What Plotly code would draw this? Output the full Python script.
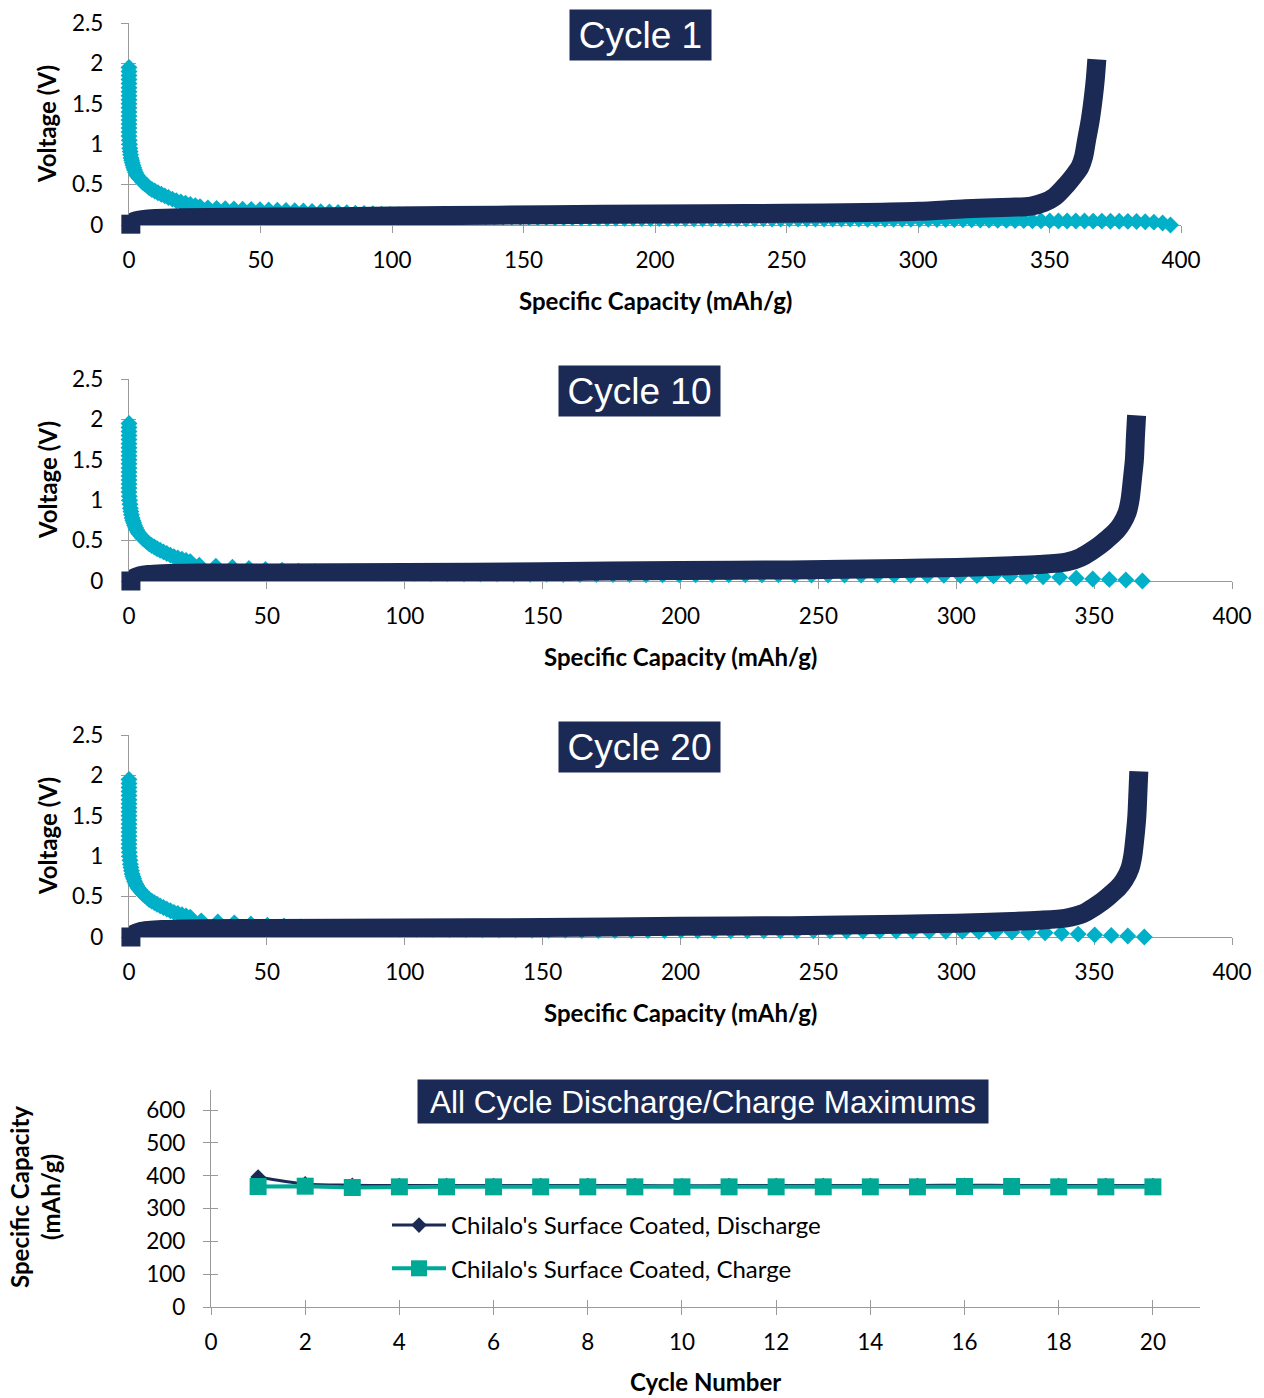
import plotly.graph_objects as go

W, H = 1264, 1398

# ---------------- data ----------------
# steep start of the discharge curves, (specific capacity mAh/g, voltage V)
c1_discharge_start = [
    (0, 1.95), (0, 1.9), (0, 1.85), (0, 1.8), (0, 1.75), (0, 1.7), (0, 1.65), (0, 1.6), (0, 1.55),
    (0, 1.5), (0, 1.45), (0, 1.4), (0, 1.35), (0, 1.3), (0, 1.25), (0, 1.2), (0, 1.15), (0, 1.1),
    (0.1, 1.05), (0.2, 1.0), (0.3, 0.95), (0.45, 0.91), (0.6, 0.87), (0.8, 0.83), (1.0, 0.8),
    (1.25, 0.77), (1.5, 0.74), (1.8, 0.71), (2.1, 0.68), (2.5, 0.65), (2.9, 0.62), (3.4, 0.6),
    (3.9, 0.58), (4.5, 0.56), (5.2, 0.53), (6.0, 0.51), (6.8, 0.49), (7.7, 0.46), (8.7, 0.44),
    (9.8, 0.42), (11.0, 0.4), (12.3, 0.38), (13.6, 0.36), (15.0, 0.34), (16.5, 0.32), (18.0, 0.3),
    (19.7, 0.285), (21.5, 0.27), (23.3, 0.255), (25.2, 0.24), (27.0, 0.228),
]
c1_discharge_plateau = [
    (30.0, 0.212), (33.3, 0.206), (36.6, 0.201), (39.9, 0.198), (43.2, 0.195), (46.5, 0.192),
    (49.8, 0.19), (53.1, 0.187), (56.4, 0.184), (59.7, 0.181), (63.0, 0.177), (66.3, 0.173),
    (69.6, 0.169), (72.9, 0.164), (76.2, 0.16), (79.5, 0.155), (82.8, 0.151), (86.1, 0.147),
    (89.4, 0.143), (92.7, 0.139), (96.0, 0.135), (99.3, 0.131), (102.6, 0.128), (105.9, 0.125),
    (109.2, 0.122), (112.5, 0.119), (115.8, 0.116), (119.1, 0.113), (122.4, 0.111), (125.7, 0.109),
    (129.0, 0.107), (132.3, 0.105), (135.6, 0.103), (138.9, 0.101), (142.2, 0.099), (145.5, 0.097),
    (148.8, 0.096), (152.1, 0.094), (155.4, 0.093), (158.7, 0.091), (162.0, 0.09), (165.3, 0.089),
    (168.6, 0.088), (171.9, 0.087), (175.2, 0.086), (178.5, 0.085), (181.8, 0.084), (185.1, 0.083),
    (188.4, 0.083), (191.7, 0.082), (195.0, 0.081), (198.3, 0.081), (201.6, 0.08), (204.9, 0.08),
    (208.2, 0.079), (211.5, 0.079), (214.8, 0.078), (218.1, 0.078), (221.4, 0.078), (224.7, 0.077),
    (228.0, 0.077), (231.3, 0.077), (234.6, 0.076), (237.9, 0.076), (241.2, 0.076), (244.5, 0.075),
    (247.8, 0.075), (251.1, 0.075), (254.4, 0.075), (257.7, 0.074), (261.0, 0.074), (264.3, 0.074),
    (267.6, 0.074), (270.9, 0.073), (274.2, 0.073), (277.5, 0.073), (280.8, 0.072), (284.1, 0.072),
    (287.4, 0.072), (290.7, 0.071), (294.0, 0.071), (297.3, 0.07), (300.6, 0.07), (303.9, 0.069),
    (307.2, 0.068), (310.5, 0.067), (313.8, 0.066), (317.1, 0.065), (320.4, 0.063), (323.7, 0.062),
    (327.0, 0.06), (330.3, 0.059), (333.6, 0.057), (336.9, 0.056), (340.2, 0.054), (343.5, 0.053),
    (346.8, 0.052), (350.1, 0.051), (353.4, 0.05), (356.7, 0.05), (360.0, 0.049), (363.3, 0.049),
    (366.6, 0.048), (369.9, 0.048), (373.2, 0.047), (376.5, 0.046), (379.8, 0.045), (383.1, 0.043),
    (386.4, 0.04), (389.7, 0.035), (393.0, 0.025), (396.0, 0.0),
]
c1_charge = [
    (0.7, 0.01), (1, 0.03), (2.5, 0.05), (5, 0.065), (10, 0.08), (20, 0.09), (40, 0.095), (70, 0.1),
    (100, 0.11), (140, 0.122), (180, 0.132), (220, 0.138), (250, 0.145), (280, 0.155), (300, 0.17),
    (318, 0.2), (335, 0.22), (343, 0.235), (348, 0.28), (352, 0.35), (356.5, 0.5), (359.5, 0.62),
    (361.6, 0.72), (363, 0.85), (364.1, 1.05), (365.5, 1.3), (366.6, 1.56), (367.4, 1.8), (368, 2.05),
]

c10_discharge_start = [
    (0, 1.95), (0, 1.9), (0, 1.85), (0, 1.8), (0, 1.75), (0, 1.7), (0, 1.65), (0, 1.6), (0, 1.55),
    (0, 1.5), (0, 1.45), (0, 1.4), (0, 1.35), (0, 1.3), (0, 1.25), (0, 1.2), (0, 1.15), (0, 1.1),
    (0.1, 1.05), (0.2, 1.0), (0.35, 0.95), (0.5, 0.9), (0.7, 0.86), (0.9, 0.82), (1.15, 0.78),
    (1.4, 0.75), (1.7, 0.72), (2.0, 0.69), (2.4, 0.66), (2.8, 0.63), (3.3, 0.6), (3.8, 0.58),
    (4.4, 0.555), (5.0, 0.53), (5.7, 0.51), (6.5, 0.485), (7.3, 0.46), (8.2, 0.44), (9.2, 0.42),
    (10.2, 0.4), (11.3, 0.38), (12.5, 0.36), (13.7, 0.34), (15.0, 0.32), (16.3, 0.3), (17.7, 0.285),
    (19.2, 0.27), (20.7, 0.255), (22.2, 0.24),
]
c10_discharge_plateau = [
    (25.5, 0.196), (31.5, 0.183), (37.5, 0.171), (43.5, 0.155), (49.5, 0.142), (55.5, 0.134),
    (61.5, 0.121), (67.5, 0.115), (73.5, 0.11), (79.5, 0.105), (85.5, 0.1), (91.5, 0.097),
    (97.5, 0.094), (103.5, 0.092), (109.5, 0.09), (115.5, 0.088), (121.5, 0.087), (127.5, 0.086),
    (133.5, 0.085), (139.5, 0.084), (145.5, 0.083), (151.5, 0.082), (157.5, 0.081), (163.5, 0.08),
    (169.5, 0.08), (175.5, 0.079), (181.5, 0.079), (187.5, 0.078), (193.5, 0.078), (199.5, 0.078),
    (205.5, 0.077), (211.5, 0.077), (217.5, 0.077), (223.5, 0.076), (229.5, 0.076), (235.5, 0.076),
    (241.5, 0.075), (247.5, 0.075), (253.5, 0.075), (259.5, 0.074), (265.5, 0.074), (271.5, 0.073),
    (277.5, 0.073), (283.5, 0.072), (289.5, 0.071), (295.5, 0.07), (301.5, 0.068), (307.5, 0.066),
    (313.5, 0.063), (319.5, 0.06), (325.5, 0.057), (331.5, 0.052), (337.5, 0.045), (343.5, 0.035),
    (349.5, 0.025), (355.5, 0.02), (361.5, 0.012), (367.5, 0.0),
]
c10_charge = [
    (0.7, 0.0), (2, 0.04), (4, 0.065), (7, 0.08), (12, 0.09), (25, 0.1), (50, 0.1), (100, 0.105),
    (150, 0.115), (200, 0.13), (240, 0.137), (280, 0.155), (300, 0.167), (320, 0.19), (330, 0.205),
    (340, 0.235), (345, 0.29), (349, 0.37), (352, 0.44), (354.5, 0.51), (358, 0.62), (360, 0.71),
    (362, 0.85), (363, 1.0), (364, 1.3), (364.6, 1.5), (365, 1.8), (365.4, 2.05),
]

c20_discharge_start = [
    (0, 1.95), (0, 1.9), (0, 1.85), (0, 1.8), (0, 1.75), (0, 1.7), (0, 1.65), (0, 1.6), (0, 1.55),
    (0, 1.5), (0, 1.45), (0, 1.4), (0, 1.35), (0, 1.3), (0, 1.25), (0, 1.2), (0, 1.15), (0, 1.1),
    (0.1, 1.05), (0.2, 1.0), (0.35, 0.95), (0.5, 0.9), (0.7, 0.86), (0.9, 0.82), (1.15, 0.78),
    (1.4, 0.75), (1.7, 0.72), (2.0, 0.69), (2.4, 0.66), (2.8, 0.635), (3.3, 0.605), (3.8, 0.585),
    (4.4, 0.56), (5.0, 0.535), (5.7, 0.515), (6.5, 0.49), (7.3, 0.465), (8.2, 0.445), (9.2, 0.425),
    (10.2, 0.405), (11.3, 0.385), (12.5, 0.365), (13.7, 0.345), (15.0, 0.325), (16.3, 0.305),
    (17.7, 0.29), (19.2, 0.275), (20.7, 0.26), (22.2, 0.245),
]
c20_discharge_plateau = [
    (26.2, 0.2), (32.2, 0.187), (38.2, 0.175), (44.2, 0.16), (50.2, 0.146), (56.2, 0.136),
    (62.2, 0.124), (68.2, 0.117), (74.2, 0.111), (80.2, 0.106), (86.2, 0.101), (92.2, 0.098),
    (98.2, 0.095), (104.2, 0.093), (110.2, 0.091), (116.2, 0.089), (122.2, 0.088), (128.2, 0.087),
    (134.2, 0.086), (140.2, 0.085), (146.2, 0.084), (152.2, 0.083), (158.2, 0.082), (164.2, 0.081),
    (170.2, 0.081), (176.2, 0.08), (182.2, 0.08), (188.2, 0.079), (194.2, 0.079), (200.2, 0.079),
    (206.2, 0.078), (212.2, 0.078), (218.2, 0.078), (224.2, 0.077), (230.2, 0.077), (236.2, 0.077),
    (242.2, 0.076), (248.2, 0.076), (254.2, 0.076), (260.2, 0.075), (266.2, 0.075), (272.2, 0.074),
    (278.2, 0.074), (284.2, 0.073), (290.2, 0.072), (296.2, 0.071), (302.2, 0.069), (308.2, 0.067),
    (314.2, 0.064), (320.2, 0.061), (326.2, 0.058), (332.2, 0.053), (338.2, 0.046), (344.2, 0.036),
    (350.2, 0.026), (356.2, 0.02), (362.2, 0.012), (368.2, 0.0),
]
c20_charge = [
    (0.7, 0.0), (2, 0.04), (4, 0.065), (7, 0.08), (12, 0.092), (25, 0.103), (50, 0.105), (100, 0.11),
    (150, 0.118), (200, 0.132), (240, 0.14), (280, 0.158), (300, 0.17), (320, 0.192), (330, 0.207),
    (340, 0.235), (346, 0.29), (350, 0.37), (353, 0.44), (355.5, 0.51), (359, 0.62), (361, 0.71),
    (363, 0.85), (364, 1.0), (365, 1.3), (365.5, 1.5), (365.9, 1.8), (366.2, 2.05),
]

# All-cycle maximums
cycle_number = list(range(1, 21))
max_discharge = [396, 375, 371, 370, 370, 370, 370, 370, 370, 369, 370, 370, 370, 370, 370, 371, 370, 370, 370, 370]
max_charge = [367, 368, 364, 366, 366, 366, 366, 366, 366, 366, 366, 366, 366, 366, 366, 367, 367, 366, 366, 366]

voltage_ticks = [0, 0.5, 1, 1.5, 2, 2.5]
voltage_ticktext = ["0", "0.5", "1", "1.5", "2", "2.5"]
capacity_ticks = [0, 50, 100, 150, 200, 250, 300, 350, 400]
cycle_ticks = [0, 2, 4, 6, 8, 10, 12, 14, 16, 18, 20]
cap_ticks = [0, 100, 200, 300, 400, 500, 600]
legend_names = ["Chilalo's Surface Coated, Discharge", "Chilalo's Surface Coated, Charge"]

# ---------------- styling ----------------
NAVY = "#1b2a55"
CYAN = "#00afc8"
TEAL = "#00a996"
AXIS = "#9a9a9a"
TICKFONT = dict(family="Lato", size=22.5, color="black")
TITLEFONT = dict(family="Lato", size=24, color="black")


def fx(p):
    return p / W


def fy(p):
    return 1 - p / H


fig = go.Figure()

panels = [
    dict(dis=c1_discharge_start + c1_discharge_plateau, chg=c1_charge, x0=129, x1=1181, y0=23, y1=225,
         title="Cycle 1", box=(570, 10, 711, 60)),
    dict(dis=c10_discharge_start + c10_discharge_plateau, chg=c10_charge, x0=129, x1=1232, y0=379,
         y1=581, title="Cycle 10", box=(559, 366, 720, 416)),
    dict(dis=c20_discharge_start + c20_discharge_plateau, chg=c20_charge, x0=129, x1=1232, y0=735,
         y1=937, title="Cycle 20", box=(559, 722, 720, 772)),
]

annotations = []
layout_axes = {}


def axis_common():
    return dict(showline=True, linecolor=AXIS, linewidth=1.3, ticks="outside", ticklen=7,
                tickcolor=AXIS, tickwidth=1.3, showgrid=False, zeroline=False, automargin=False,
                tickfont=TICKFONT, layer="below traces")


def overlay_common():
    return dict(showline=False, ticks="inside", ticklen=7, tickcolor=AXIS, tickwidth=1.3,
                showgrid=False, zeroline=False, showticklabels=False, automargin=False,
                layer="below traces")


for i, p in enumerate(panels):
    k = i + 1
    xa = "x" if k == 1 else f"x{k}"
    ya = "y" if k == 1 else f"y{k}"
    xo, yo = f"x{k + 4}", f"y{k + 4}"
    fig.add_trace(go.Scatter(
        x=[c for c, v in p["dis"]], y=[v for c, v in p["dis"]], mode="markers",
        marker=dict(symbol="diamond", size=13, color=CYAN, line=dict(width=0)),
        cliponaxis=False, showlegend=False, xaxis=xa, yaxis=ya, hoverinfo="skip"))
    fig.add_trace(go.Scatter(
        x=[c for c, v in p["chg"]], y=[v for c, v in p["chg"]], mode="lines",
        line=dict(color=NAVY, width=19, shape="spline", smoothing=0.8), cliponaxis=False,
        showlegend=False, xaxis=xa, yaxis=ya, hoverinfo="skip"))
    fig.add_trace(go.Scatter(
        x=[p["chg"][0][0]], y=[p["chg"][0][1]], mode="markers",
        marker=dict(symbol="square", size=19, color=NAVY), cliponaxis=False,
        showlegend=False, xaxis=xa, yaxis=ya, hoverinfo="skip"))
    # empty traces hosting the overlay axes that give the crossing tick marks
    fig.add_trace(go.Scatter(x=[], y=[], xaxis=xo, yaxis=ya, showlegend=False))
    fig.add_trace(go.Scatter(x=[], y=[], xaxis=xa, yaxis=yo, showlegend=False))

    xdom = [fx(p["x0"]), fx(p["x1"])]
    ydom = [fy(p["y1"]), fy(p["y0"])]
    layout_axes[f"xaxis{k}"] = dict(axis_common(), domain=xdom, range=[0, 400], anchor=ya,
                                    tickvals=capacity_ticks, ticklabelstandoff=8)
    layout_axes[f"yaxis{k}"] = dict(axis_common(), domain=ydom, range=[0, 2.5], anchor=xa,
                                    tickvals=voltage_ticks, ticktext=voltage_ticktext,
                                    ticklabelstandoff=13)
    layout_axes[f"xaxis{k + 4}"] = dict(overlay_common(), domain=xdom, range=[0, 400], anchor=ya,
                                        overlaying=xa, tickvals=capacity_ticks, side="bottom")
    layout_axes[f"yaxis{k + 4}"] = dict(overlay_common(), domain=ydom, range=[0, 2.5], anchor=xa,
                                        overlaying=ya, tickvals=voltage_ticks, side="left")

    bx0, by0, bx1, by1 = p["box"]
    annotations.append(dict(
        text=p["title"], x=fx((bx0 + bx1) / 2), y=fy((by0 + by1) / 2), xref="paper", yref="paper",
        xanchor="center", yanchor="middle", showarrow=False, bgcolor=NAVY, borderpad=0,
        width=bx1 - bx0, height=by1 - by0,
        font=dict(family="Liberation Sans", size=37, color="white")))
    annotations.append(dict(
        text="<b>Specific Capacity (mAh/g)</b>", x=fx((p["x0"] + p["x1"]) / 2), y=fy(p["y1"] + 75),
        xref="paper", yref="paper", xanchor="center", yanchor="middle", showarrow=False,
        font=TITLEFONT))
    annotations.append(dict(
        text="<b>Voltage (V)</b>", x=fx(47), y=fy((p["y0"] + p["y1"]) / 2), textangle=-90,
        xref="paper", yref="paper", xanchor="center", yanchor="middle", showarrow=False,
        font=TITLEFONT))

# ---- panel 4 : all cycle maximums ----
fig.add_trace(go.Scatter(
    x=cycle_number, y=max_discharge, mode="lines+markers", name=legend_names[0],
    line=dict(color=NAVY, width=3, shape="spline"),
    marker=dict(symbol="diamond", size=12, color=NAVY), xaxis="x4", yaxis="y4",
    legendgroup="a", cliponaxis=False))
fig.add_trace(go.Scatter(
    x=cycle_number, y=max_charge, mode="lines+markers", name=legend_names[1],
    line=dict(color=TEAL, width=4), marker=dict(symbol="square", size=17, color=TEAL),
    xaxis="x4", yaxis="y4", legendgroup="b", cliponaxis=False))
fig.add_trace(go.Scatter(x=[], y=[], xaxis="x8", yaxis="y4", showlegend=False))
fig.add_trace(go.Scatter(x=[], y=[], xaxis="x4", yaxis="y8", showlegend=False))

x4dom = [fx(211), fx(1200)]
y4dom = [fy(1307), fy(1090)]
layout_axes["xaxis4"] = dict(axis_common(), domain=x4dom, range=[0, 21], anchor="y4",
                             tickvals=cycle_ticks, ticklabelstandoff=8)
layout_axes["yaxis4"] = dict(axis_common(), domain=y4dom, range=[0, 661], anchor="x4",
                             tickvals=cap_ticks, ticklabelstandoff=13)
layout_axes["xaxis8"] = dict(overlay_common(), domain=x4dom, range=[0, 21], anchor="y4",
                             overlaying="x4", tickvals=cycle_ticks, side="bottom")
layout_axes["yaxis8"] = dict(overlay_common(), domain=y4dom, range=[0, 661], anchor="x4",
                             overlaying="y4", tickvals=cap_ticks, side="left")

annotations.append(dict(
    text="All Cycle Discharge/Charge Maximums", x=fx(703), y=fy(1101.5), xref="paper", yref="paper",
    xanchor="center", yanchor="middle", showarrow=False, bgcolor=NAVY, borderpad=0,
    width=570, height=43, font=dict(family="Liberation Sans", size=31.5, color="white")))
annotations.append(dict(
    text="<b>Cycle Number</b>", x=fx(705), y=fy(1381), xref="paper", yref="paper",
    xanchor="center", yanchor="middle", showarrow=False, font=TITLEFONT))
annotations.append(dict(
    text="<b>Specific Capacity<br>(mAh/g)</b>", x=fx(35), y=fy(1197), textangle=-90,
    xref="paper", yref="paper", xanchor="center", yanchor="middle", showarrow=False,
    font=TITLEFONT))

fig.update_layout(
    width=W, height=H, autosize=False,
    margin=dict(l=0, r=0, t=0, b=0, pad=0, autoexpand=False),
    paper_bgcolor="white", plot_bgcolor="white", annotations=annotations,
    legend=dict(x=fx(387), y=fy(1203), xanchor="left", yanchor="top", bgcolor="rgba(0,0,0,0)",
                font=dict(family="Lato", size=24, color="black"), tracegroupgap=9,
                itemwidth=54),
    **layout_axes,
)

fig.write_html(
    "out.html",
    config={"displayModeBar": False},
    post_script="document.body.style.margin='0';document.body.style.overflow='hidden';",
)
